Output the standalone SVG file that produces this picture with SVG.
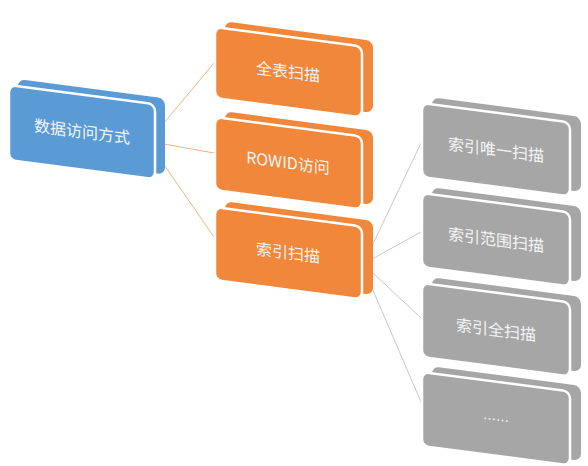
<svg xmlns="http://www.w3.org/2000/svg" width="588" height="466" viewBox="0 0 588 466">
<style>
.b{fill:#5b9bd5}
.o{fill:#f0873a}
.g{fill:#a6a6a6}
.f{stroke:#ffffff;stroke-width:2.5}
.t{font-family:"Noto Sans CJK SC","Noto Sans",sans-serif;font-size:16px;fill:#f4f4f4;text-anchor:middle}
.lo{stroke:#f4b183;stroke-width:1;fill:none}
.lg{stroke:#c8c8c8;stroke-width:1;fill:none}
</style>
<rect width="588" height="466" fill="#ffffff"/>
<g id="connectors">
<line class="lo" x1="158" y1="130" x2="214" y2="63"/>
<line class="lo" x1="158" y1="143" x2="214" y2="153"/>
<line class="lo" x1="158" y1="156" x2="214" y2="237"/>
<line class="lg" x1="372" y1="246" x2="421" y2="143"/>
<line class="lg" x1="372" y1="259" x2="421" y2="232"/>
<line class="lg" x1="372" y1="272" x2="421" y2="318"/>
<line class="lg" x1="372" y1="288" x2="421" y2="402"/>
</g>
<g id="n0" transform="translate(9,85) skewY(7.5)">
<rect class="b" x="9" y="-7" width="147" height="76" rx="7"/>
<rect class="b f" x="0" y="0" width="146" height="75" rx="7"/>
<text class="t" x="73" y="43">数据访问方式</text>
</g>
<g id="n1" transform="translate(215,27) skewY(7.5)">
<rect class="o" x="10" y="-7" width="148" height="72" rx="7"/>
<rect class="o f" x="0" y="0" width="147" height="71" rx="7"/>
<text class="t" x="73" y="41">全表扫描</text>
</g>
<g id="n2" transform="translate(215,117) skewY(7.5)">
<rect class="o" x="10" y="-7" width="148" height="74" rx="7"/>
<rect class="o f" x="0" y="0" width="147" height="73" rx="7"/>
<text class="t" x="73" y="42">ROWID访问</text>
</g>
<g id="n3" transform="translate(215,207) skewY(7.5)">
<rect class="o" x="10" y="-7" width="148" height="74" rx="7"/>
<rect class="o f" x="0" y="0" width="147" height="73" rx="7"/>
<text class="t" x="73" y="42">索引扫描</text>
</g>
<g id="n4" transform="translate(422,103) skewY(7.5)">
<rect class="g" x="10" y="-7" width="149" height="75" rx="7"/>
<rect class="g f" x="0" y="0" width="148" height="74" rx="7"/>
<text class="t" x="74" y="43">索引唯一扫描</text>
</g>
<g id="n5" transform="translate(422,193) skewY(7.5)">
<rect class="g" x="10" y="-7" width="149" height="75" rx="7"/>
<rect class="g f" x="0" y="0" width="148" height="74" rx="7"/>
<text class="t" x="74" y="43">索引范围扫描</text>
</g>
<g id="n6" transform="translate(422,283) skewY(7.5)">
<rect class="g" x="10" y="-7" width="149" height="75" rx="7"/>
<rect class="g f" x="0" y="0" width="148" height="74" rx="7"/>
<text class="t" x="74" y="43">索引全扫描</text>
</g>
<g id="n7" transform="translate(422,372) skewY(7.5)">
<rect class="g" x="10" y="-7" width="149" height="75" rx="7"/>
<rect class="g f" x="0" y="0" width="148" height="74" rx="7"/>
<text class="t" x="74" y="43" style="font-size:13px">……</text>
</g>
</svg>
